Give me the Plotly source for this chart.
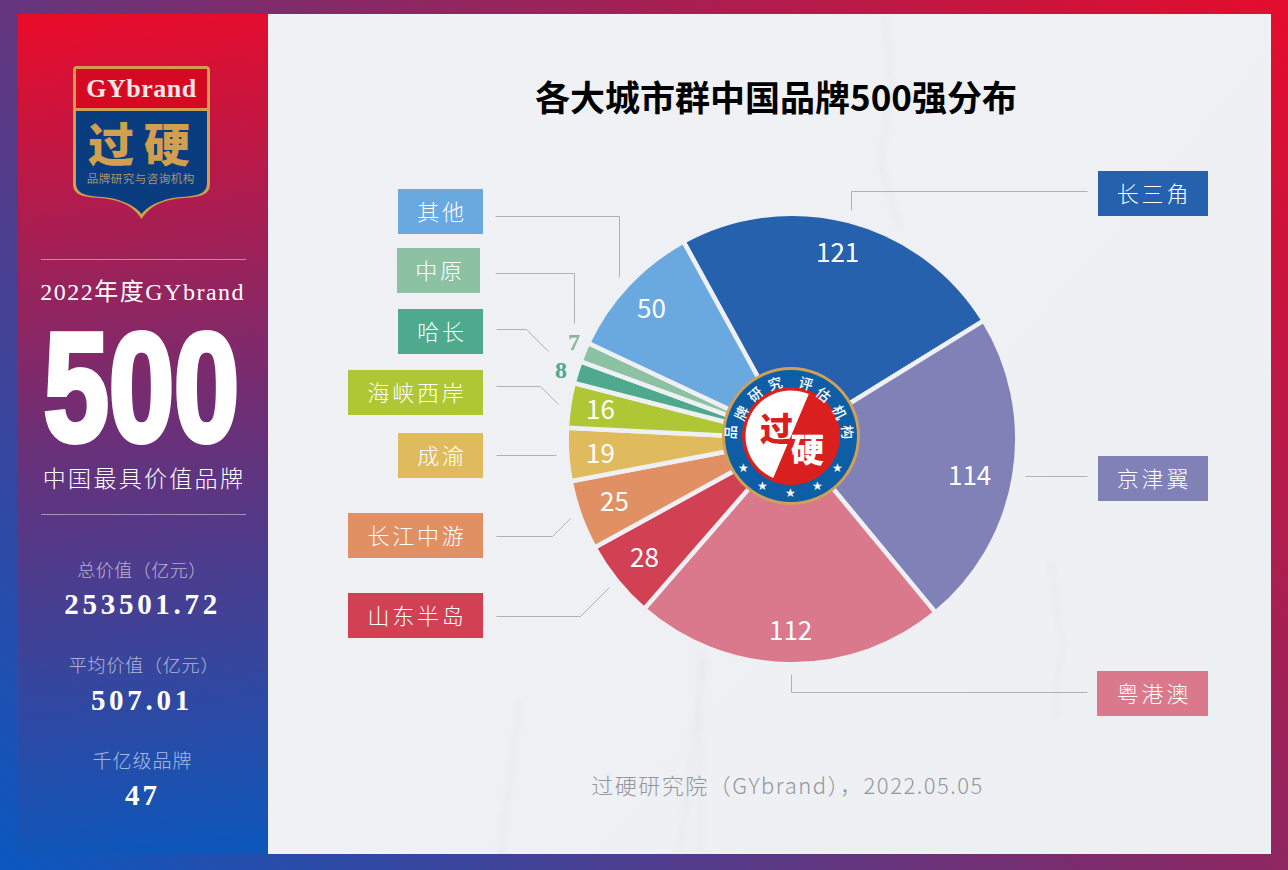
import base64, json
import numpy as np
import plotly.graph_objects as go

W, H = 1288, 870

regions = ["长三角", "京津翼", "粤港澳", "山东半岛", "长江中游", "成渝", "海峡西岸", "哈长", "中原", "其他"]
brands = [121, 114, 112, 28, 25, 19, 16, 8, 7, 50]
slice_colors = ["#2561ad", "#8081b7", "#da788c", "#d14153", "#e19064", "#dfbb5d", "#afc734", "#4ea98d", "#8cc2a3", "#69a9e0"]
value_colors = ["#ffffff"] * 7 + ["#4ea98d", "#85b598", "#ffffff"]
value_pos = [(837, 252), (970, 474), (791, 629), (644, 556), (614, 501), (600, 453), (600, 408), (561, 370), (574, 342), (651, 307)]
boxes = [(1098, 171, 1208, 216), (1098, 456, 1208, 501), (1097, 671, 1208, 716), (348, 593, 483, 638),
         (348, 513, 483, 558), (398, 433, 483, 478), (348, 370, 483, 415), (398, 309, 483, 354),
         (397, 248, 480, 293), (398, 189, 483, 234)]
leaders = [[(1087, 191), (851, 191), (851, 210)], [(1087, 476), (1025, 476)], [(1087, 692), (791, 692), (791, 674)],
           [(496, 616), (580, 616), (609, 587)], [(496, 536), (552, 536), (570, 518)], [(496, 455), (556, 455)],
           [(496, 386), (540, 386), (558, 404)], [(496, 329), (526, 329), (548, 351)],
           [(495, 273), (574, 273), (574, 323)], [(495, 216), (619, 216), (619, 277)]]
ring_text = ["品", "牌", "研", "究", "评", "估", "机", "构"]
ring_pos = [(730, 432), (741, 413), (755, 394), (775, 383), (806, 383), (824, 394), (840, 412), (848, 432)]
star_pos = [(743, 468), (762, 486), (790, 493), (818, 486), (837, 468)]
SERIF = "Liberation Serif, Noto Sans CJK SC"
CJK = "Noto Sans CJK SC, Noto Sans"

bg_svg = f'''<svg xmlns="http://www.w3.org/2000/svg" width="{W}" height="{H}" viewBox="0 0 {W} {H}">
<defs>
<linearGradient id="o" gradientUnits="userSpaceOnUse" x1="104.5" y1="974.5" x2="1183.5" y2="-104.5">
<stop offset="0" stop-color="#0a58c0"/><stop offset="0.5" stop-color="#7a2d6e"/><stop offset="1" stop-color="#e50c2c"/></linearGradient>
<linearGradient id="p" gradientUnits="userSpaceOnUse" x1="100" y1="14" x2="186" y2="854">
<stop offset="0" stop-color="#e80c2b"/><stop offset="0.5" stop-color="#6a3078"/><stop offset="1" stop-color="#0d57bb"/></linearGradient>
<linearGradient id="m" gradientUnits="userSpaceOnUse" x1="268" y1="14" x2="1271" y2="854">
<stop offset="0" stop-color="#f0f1f4"/><stop offset="1" stop-color="#edf0f3"/></linearGradient>
<filter id="b" x="-20%" y="-20%" width="140%" height="140%"><feGaussianBlur stdDeviation="3"/></filter>
<clipPath id="c"><rect x="268" y="14" width="1003" height="840"/></clipPath>
</defs>
<rect width="{W}" height="{H}" fill="url(#o)"/>
<rect x="18" y="14" width="250" height="840" fill="url(#p)"/>
<rect x="268" y="14" width="1003" height="840" fill="url(#m)"/>
<g clip-path="url(#c)" filter="url(#b)" fill="none" stroke="#dde0e5" stroke-width="3" opacity="0.55">
<path d="M885,14 L892,90 L880,160 L900,230"/>
<path d="M520,700 L510,780 L500,854"/>
<path d="M705,660 L695,730 L680,854"/>
<path d="M1050,560 L1062,640 L1055,720"/>
<path d="M700,650 L700,854"/>
</g>
</svg>'''
bg_uri = "data:image/svg+xml;base64," + base64.b64encode(bg_svg.encode()).decode()


def px(x):
    return x / W


def py(y):
    return 1 - y / H


def path_of(points):
    return "M" + " L".join(f"{px(x):.5f},{py(y):.5f}" for x, y in points)


shapes = []
annotations = []
spacing = {}


def T(text, x, y, size, color="#ffffff", family=CJK, weight=400, angle=0, ls=None):
    annotations.append(dict(text=text, x=px(x), y=py(y), xref="paper", yref="paper", showarrow=False,
                            xanchor="center", yanchor="middle", textangle=angle,
                            font=dict(size=size, color=color, family=family, weight=weight)))
    if ls:
        spacing[text] = ls


def rect(x0, y0, x1, y1, fill):
    shapes.append(dict(type="rect", xref="paper", yref="paper", x0=px(x0), y0=py(y0), x1=px(x1), y1=py(y1),
                       fillcolor=fill, line_width=0, layer="above"))


def circle(cx, cy, r, fill):
    shapes.append(dict(type="circle", xref="paper", yref="paper", x0=px(cx - r), x1=px(cx + r), y0=py(cy - r),
                       y1=py(cy + r), fillcolor=fill, line_width=0, layer="above"))


def bez(p0, p1, p2, p3, n=14):
    t = np.linspace(0, 1, n)[:, None]
    a, b, c, d = map(np.array, (p0, p1, p2, p3))
    return [tuple(v) for v in (1 - t) ** 3 * a + 3 * (1 - t) ** 2 * t * b + 3 * (1 - t) * t ** 2 * c + t ** 3 * d]


def shield(l, t, r, side, tip, c):
    m = (l + r) / 2
    left = bez((l, side), (l, side + 11), (l + 10, side + 13), (l + 26, side + 14)) + \
        bez((l + 26, side + 14), (m - 26, side + 15), (m - 9, side + 20), (m, tip))
    right = [(2 * m - x, y) for x, y in left]
    top = [(l, t + 3), (l + 1, t + 1), (l + 3, t), (r - 3, t), (r - 1, t + 1), (r, t + 3)]
    pts = top + right + list(reversed(left))
    shapes.append(dict(type="path", xref="paper", yref="paper", path=path_of(pts) + " Z", fillcolor=c,
                       line_width=0, layer="above"))


# Left panel
shield(73, 66, 210, 184, 219, "#d29f4e")
shield(76, 69, 207, 183, 214, "#0a3d80")
rect(76, 69, 207, 108, "#d50a22")
rect(76, 108, 207, 111, "#d29f4e")
T("GYbrand", 141.5, 88.5, 26, "#f6e6e6", SERIF, 700, ls=0.5)
T("过硬", 144, 141, 46, "#d29f4e", CJK, 900, ls=10)
T("品牌研究与咨询机构", 141, 178, 11.5, "#a8946c", CJK, 400, ls=0.5)
rect(41, 259, 246, 260, "rgba(255,255,255,0.45)")
rect(41, 514, 246, 515, "rgba(255,255,255,0.45)")
T("2022年度GYbrand", 142, 292, 24, "#ffffff", SERIF, 400, ls=1.5)
T("500", 141, 388, 154, "#ffffff", "Liberation Sans", 700)
T("中国最具价值品牌", 143.5, 477, 23, "#ffffff", CJK, 300, ls=2.3)
T("总价值（亿元）", 142, 569, 18, "rgba(255,255,255,0.62)", CJK, 300, ls=0.5)
T("253501.72", 142, 604, 29, "#ffffff", SERIF, 700, ls=3.7)
T("平均价值（亿元）", 144, 664, 18, "rgba(255,255,255,0.62)", CJK, 300, ls=0.8)
T("507.01", 142, 700, 29, "#ffffff", SERIF, 700, ls=3.7)
T("千亿级品牌", 142, 759, 19, "rgba(255,255,255,0.62)", CJK, 300, ls=1)
T("47", 142, 795, 29, "#ffffff", SERIF, 700, ls=3)

# Main panel
T("各大城市群中国品牌500强分布", 775.5, 95, 35, "#000000", CJK, 700)
T("过硬研究院（GYbrand），2022.05.05", 787.5, 784, 22, "#94969a", CJK, 300, ls=1.5)

for name, color, (x0, y0, x1, y1), pts in zip(regions, slice_colors, boxes, leaders):
    rect(x0, y0, x1, y1, color)
    T(name, (x0 + x1) / 2 + 1, (y0 + y1) / 2 - 2, 22, "#ffffff", CJK, 300, ls=2.8)
    shapes.append(dict(type="path", xref="paper", yref="paper", path=path_of([(x + 0.5, y + 0.5) for x, y in pts]),
                       line=dict(color="#b0b2b4", width=1), layer="above"))

for v, c, (x, y) in zip(brands, value_colors, value_pos):
    if v < 10:
        T(str(v), x, y, 24, c, "Liberation Serif", 700)
    else:
        T(str(v), x, y - 1, 26, c, CJK, 400)

# Centre seal
cx, cy = 791, 436
circle(cx, cy, 69, "#cfa05a")
circle(cx, cy, 66, "#0e5ea5")
circle(cx, cy, 49, "#d9201f")
a0, a1 = np.radians(-67), np.radians(-67 - 180)
arc = [(cx + 45.5 * np.cos(a), cy + 45.5 * np.sin(a)) for a in np.linspace(a0, a1, 50)]
shapes.append(dict(type="path", xref="paper", yref="paper", path=path_of(arc) + " Z", fillcolor="#ffffff",
                   line_width=0, layer="above"))
for ch, (x, y) in zip(ring_text, ring_pos):
    ang = np.degrees(np.arctan2(x - cx, cy - y))
    T(ch, x, y, 14, "#ffffff", CJK, 500, angle=float(ang))
for x, y in star_pos:
    T("★", x, y, 12, "#ffffff", "DejaVu Sans")
T("过", 776, 427, 33, "#d9201f", CJK, 900)
T("硬", 807, 448, 33, "#ffffff", CJK, 900)

rot = -28.8
R = 225.3
CY = 439
dom_x = [(792 - R) / W, (792 + R) / W]
dom_y = [1 - (CY + R) / H, 1 - (CY - R) / H]

fig = go.Figure()
fig.add_trace(go.Pie(labels=regions, values=brands, sort=False, direction="clockwise", rotation=rot,
                     domain=dict(x=dom_x, y=dom_y), marker=dict(colors=slice_colors, line=dict(color="#eef0f3", width=4.5)),
                     textinfo="none", hoverinfo="skip", showlegend=False))

fig.update_layout(width=W, height=H, margin=dict(l=0, r=0, t=0, b=0, pad=0), paper_bgcolor="#eff1f4",
                  plot_bgcolor="rgba(0,0,0,0)", shapes=shapes, annotations=annotations, showlegend=False,
                  images=[dict(source=bg_uri, xref="paper", yref="paper", x=0, y=1, sizex=1, sizey=1,
                               sizing="stretch", xanchor="left", yanchor="top", layer="below")])

post = """
document.documentElement.style.overflow='hidden';
document.body.style.margin='0';
var ls=%s;
document.querySelectorAll('.annotation-text').forEach(function(t){
  var k=t.textContent; if(ls[k]){t.style.letterSpacing=ls[k]+'px';}
  if(k==='500'){
    t.style.stroke='#fff';t.style.strokeWidth='6px';
    t.style.transformBox='fill-box';t.style.transformOrigin='center';t.style.transform='scaleX(0.76)';
  }
});
""" % json.dumps(spacing, ensure_ascii=False)
fig.write_html("out.html", post_script=post, config={"displayModeBar": False})
